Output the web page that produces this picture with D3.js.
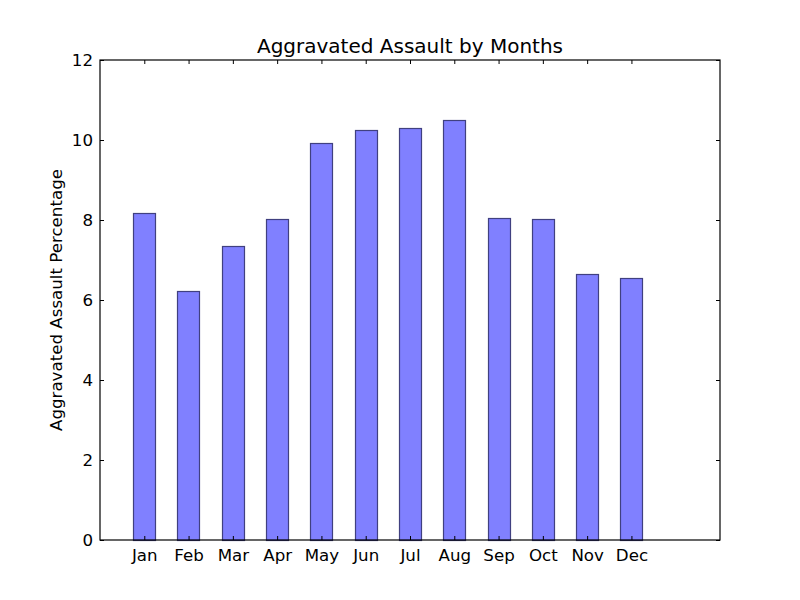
<!DOCTYPE html>
<html><head><meta charset="utf-8">
<script src="https://cdn.jsdelivr.net/npm/d3@7"></script>
<style>body{margin:0;background:#fff;} text{font-family:"DejaVu Sans",sans-serif;}</style>
</head><body>
<svg id="c" width="800" height="600"></svg>
<script>
const months = ["Jan","Feb","Mar","Apr","May","Jun","Jul","Aug","Sep","Oct","Nov","Dec"];
const values = [8.17, 6.22, 7.35, 8.02, 9.92, 10.24, 10.29, 10.49, 8.04, 8.02, 6.65, 6.54];
const yTicks = [0, 2, 4, 6, 8, 10, 12];
const titleText = "Aggravated Assault by Months";
const yLabel = "Aggravated Assault Percentage";

const svg = d3.select("#c");
const L = 100, R = 720, T = 60, B = 540;
const x = d3.scaleLinear().domain([-1, 13]).range([L, R]);
const y = d3.scaleLinear().domain([0, 12]).range([B, T]);
const bw = x(0.5) - x(0);

svg.append("rect").attr("width", 800).attr("height", 600).attr("fill", "#fff");

svg.selectAll("rect.bar").data(values).join("rect")
  .attr("class", "bar")
  .attr("x", (d, i) => Math.round(x(i) - bw / 2) + 0.5)
  .attr("y", d => Math.round(y(d)) + 0.5)
  .attr("width", Math.round(bw))
  .attr("height", d => Math.round(y(0)) - Math.round(y(d)))
  .attr("fill", "#8080ff")
  .attr("stroke", "#404080").attr("stroke-width", 1.2);

const fs = "16.67px";
const yL = d3.axisLeft(y).tickValues(yTicks).tickFormat(d3.format("d")).tickSizeInner(-4).tickSizeOuter(0).tickPadding(7);
const gy = svg.append("g").attr("transform", `translate(${L},0)`).call(yL);
const yR = d3.axisRight(y).tickValues(yTicks).tickFormat("").tickSizeInner(-4).tickSizeOuter(0);
const gyr = svg.append("g").attr("transform", `translate(${R},0)`).call(yR);
const idx = months.map((m, i) => i);
const xB = d3.axisBottom(x).tickValues(idx).tickFormat(i => months[i]).tickSizeInner(-4).tickSizeOuter(0).tickPadding(9);
const gx = svg.append("g").attr("transform", `translate(0,${B})`).call(xB);
const xT = d3.axisTop(x).tickValues(idx).tickFormat("").tickSizeInner(-4).tickSizeOuter(0);
const gxt = svg.append("g").attr("transform", `translate(0,${T})`).call(xT);

[gy, gyr, gx, gxt].forEach(g => {
  g.select(".domain").remove();
  g.selectAll("line").attr("stroke", "#000").attr("stroke-width", 1);
  g.selectAll("text").attr("font-size", fs).attr("fill", "#000").style("font-family", "DejaVu Sans");
});

svg.append("rect").attr("x", L).attr("y", T).attr("width", R - L).attr("height", B - T)
  .attr("fill", "none").attr("stroke", "#000").attr("stroke-width", 1.2);

svg.append("text").attr("x", (L + R) / 2).attr("y", 53).attr("text-anchor", "middle")
  .attr("font-size", "20px").text(titleText);

svg.append("text").attr("transform", `translate(62,${(T + B) / 2}) rotate(-90)`)
  .attr("text-anchor", "middle").attr("font-size", fs).text(yLabel);
</script>
</body></html>
